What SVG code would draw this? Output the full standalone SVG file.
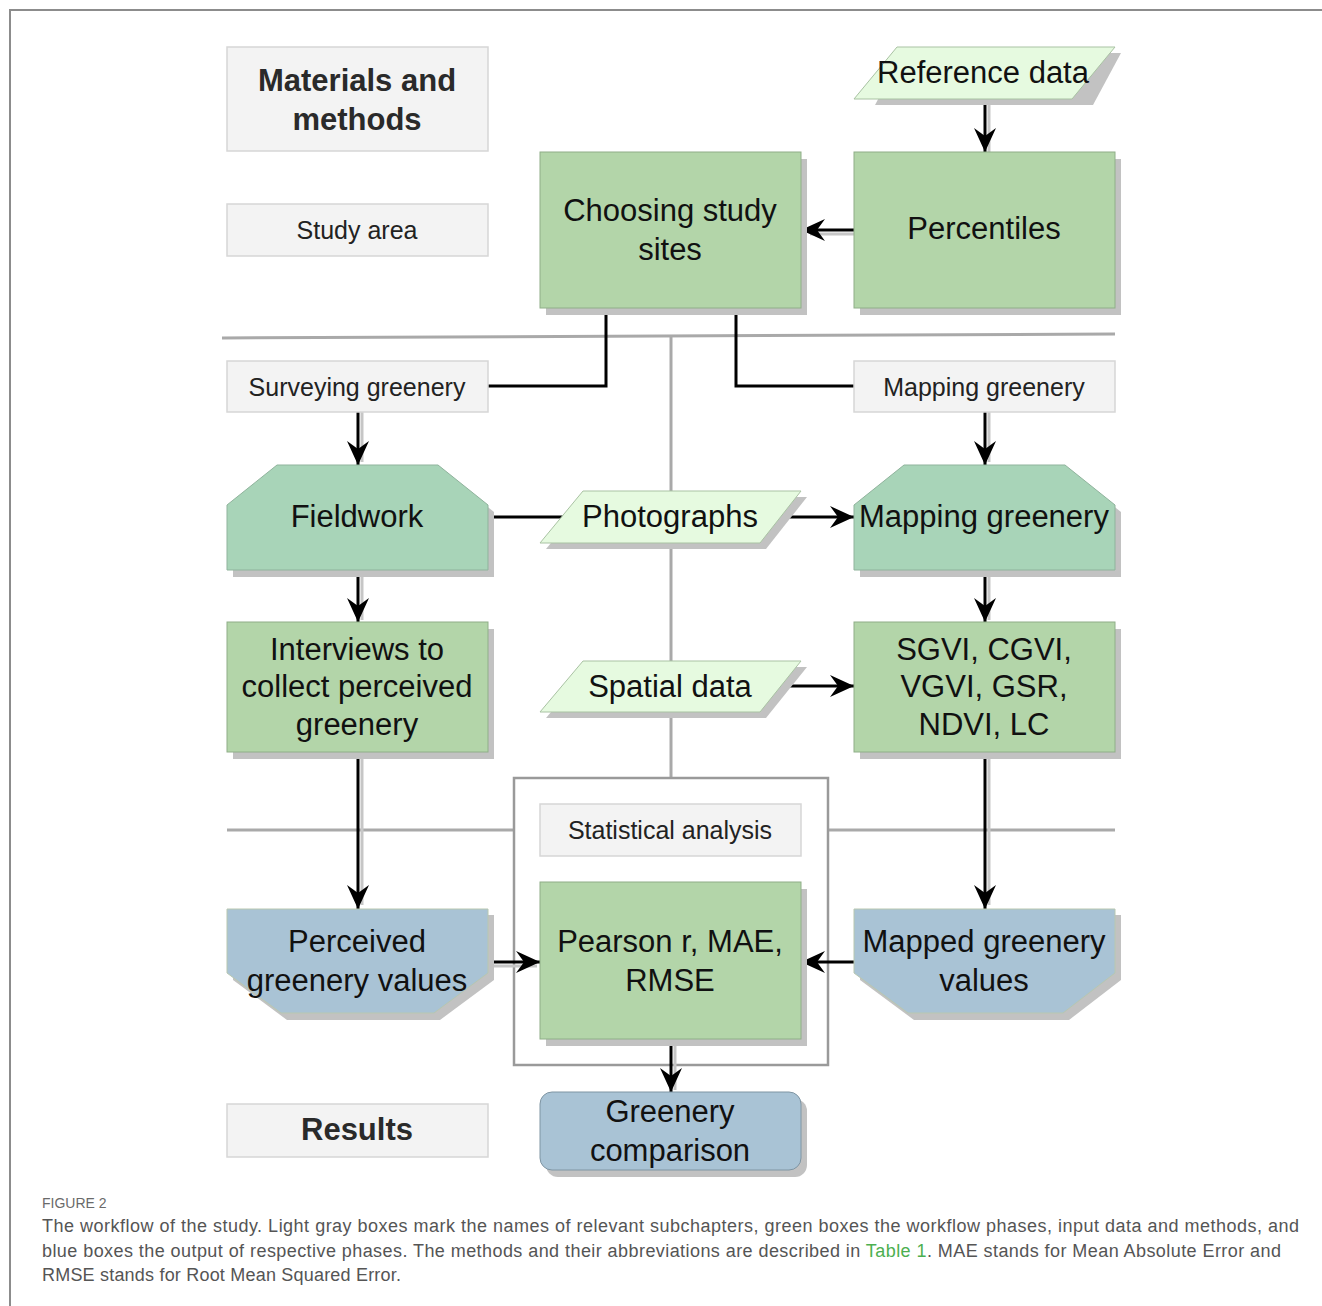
<svg xmlns="http://www.w3.org/2000/svg" width="1322" height="1306" viewBox="0 0 1322 1306">
<style>
.frame{stroke:#8c8c8c;stroke-width:2;fill:none}
.lbl{fill:#f3f3f3;stroke:#d6d6d6;stroke-width:1.5}
.grn{fill:#b3d5a9;stroke:#8fae88;stroke-width:1}
.hex{fill:#a8d4b8;stroke:#8fb39c;stroke-width:1}
.par{fill:#e6fae0;stroke:#a9c2a3;stroke-width:1}
.blu{fill:#a9c3d5;stroke:#b8c7b0;stroke-width:1}
.sh{fill:#c2c2c2}
.t{font-family:"Liberation Sans",Arial,sans-serif;font-size:31px;fill:#111;text-anchor:middle}
.tl{font-family:"Liberation Sans",Arial,sans-serif;font-size:25px;fill:#222;text-anchor:middle}
.tb{font-family:"Liberation Sans",Arial,sans-serif;font-size:31px;font-weight:bold;fill:#2a2a2a;text-anchor:middle}
.cap{font-family:"Liberation Sans",Arial,sans-serif;font-size:18px;fill:#555}
.gl{stroke:#a9a9a9;stroke-width:3;fill:none}
.ash{stroke:#c6c6c6;stroke-width:3;fill:none}
.c{stroke:#000;stroke-width:3;fill:none}
.a{marker-end:url(#ah)}
</style>
<defs>
<marker id="ah" markerUnits="userSpaceOnUse" markerWidth="26" markerHeight="24" refX="24" refY="11" orient="auto">
<path d="M0,0 L24,11 L0,22 L8,11 Z" fill="#000"/>
</marker>
</defs>
<rect width="1322" height="1306" fill="#fff"/>
<path class="frame" d="M10,1306 V10 H1322"/>

<g id="lanes">
<line class="gl" x1="222" y1="338" x2="1115" y2="334"/>
<line class="gl" x1="671" y1="336" x2="671" y2="778"/>
<line class="gl" x1="227" y1="830" x2="514" y2="830"/>
<line class="gl" x1="828" y1="830" x2="1115" y2="830"/>
<rect x="514" y="778" width="314" height="287" fill="none" stroke="#9a9a9a" stroke-width="2.5"/>
</g>

<g id="connectors">
<line class="ash" x1="989" y1="99" x2="989" y2="152"/>
<line class="ash" x1="854" y1="234" x2="810" y2="234"/>
<line class="ash" x1="362" y1="412" x2="362" y2="462"/>
<line class="ash" x1="989" y1="412" x2="989" y2="462"/>
<line class="ash" x1="362" y1="570" x2="362" y2="620"/>
<line class="ash" x1="989" y1="570" x2="989" y2="620"/>
<line class="ash" x1="362" y1="752" x2="362" y2="905"/>
<line class="ash" x1="989" y1="752" x2="989" y2="905"/>
<line class="ash" x1="488" y1="966" x2="537" y2="966"/>
<line class="ash" x1="675" y1="1039" x2="675" y2="1090"/>
<line class="c a" x1="985" y1="99" x2="985" y2="152"/>
<line class="c a" x1="854" y1="230" x2="801" y2="230"/>
<polyline class="c" points="606,308 606,386 488,386"/>
<polyline class="c" points="736,308 736,386 854,386"/>
<line class="c a" x1="358" y1="412" x2="358" y2="465"/>
<line class="c a" x1="985" y1="412" x2="985" y2="465"/>
<line class="c" x1="488" y1="517" x2="570" y2="517"/>
<line class="c a" x1="775" y1="517" x2="854" y2="517"/>
<line class="c a" x1="775" y1="686" x2="854" y2="686"/>
<line class="c a" x1="358" y1="570" x2="358" y2="622"/>
<line class="c a" x1="985" y1="570" x2="985" y2="622"/>
<line class="c a" x1="358" y1="752" x2="358" y2="909"/>
<line class="c a" x1="985" y1="752" x2="985" y2="909"/>
<line class="c a" x1="488" y1="962" x2="540" y2="962"/>
<line class="c a" x1="854" y1="962" x2="801" y2="962"/>
<line class="c a" x1="671" y1="1039" x2="671" y2="1092"/>
</g>

<g id="materials-methods">
<rect class="lbl" x="227" y="47" width="261" height="104"/>
<text class="tb" x="357" y="91">Materials and</text>
<text class="tb" x="357" y="130">methods</text>
</g>
<g id="study-area">
<rect class="lbl" x="227" y="204" width="261" height="52"/>
<text class="tl" x="357" y="239">Study area</text>
</g>
<g id="reference-data">
<polygon class="sh" points="903,53 1121,53 1093,105 875,105"/>
<polygon class="par" points="897,47 1115,47 1072,99 854,99"/>
<text class="t" x="983" y="83">Reference data</text>
</g>
<g id="choosing-study-sites">
<rect class="sh" x="546" y="159" width="261" height="156"/>
<rect class="grn" x="540" y="152" width="261" height="156"/>
<text class="t" x="670" y="221">Choosing study</text>
<text class="t" x="670" y="260">sites</text>
</g>
<g id="percentiles">
<rect class="sh" x="860" y="159" width="261" height="156"/>
<rect class="grn" x="854" y="152" width="261" height="156"/>
<text class="t" x="984" y="239">Percentiles</text>
</g>
<g id="surveying-greenery">
<rect class="lbl" x="227" y="361" width="261" height="51"/>
<text class="tl" x="357" y="396">Surveying greenery</text>
</g>
<g id="mapping-greenery-label">
<rect class="lbl" x="854" y="361" width="261" height="51"/>
<text class="tl" x="984" y="396">Mapping greenery</text>
</g>
<g id="fieldwork">
<polygon class="sh" points="283,472 444,472 494,512 494,577 233,577 233,512"/>
<polygon class="hex" points="277,465 438,465 488,505 488,570 227,570 227,505"/>
<text class="t" x="357" y="527">Fieldwork</text>
</g>
<g id="photographs">
<polygon class="sh" points="589,497 807,497 766,549 546,549"/>
<polygon class="par" points="583,491 801,491 760,543 540,543"/>
<text class="t" x="670" y="527">Photographs</text>
</g>
<g id="mapping-greenery">
<polygon class="sh" points="910,472 1071,472 1121,512 1121,577 860,577 860,512"/>
<polygon class="hex" points="904,465 1065,465 1115,505 1115,570 854,570 854,505"/>
<text class="t" x="984" y="527">Mapping greenery</text>
</g>
<g id="interviews">
<rect class="sh" x="233" y="629" width="261" height="130"/>
<rect class="grn" x="227" y="622" width="261" height="130"/>
<text class="t" x="357" y="660">Interviews to</text>
<text class="t" x="357" y="697">collect perceived</text>
<text class="t" x="357" y="735">greenery</text>
</g>
<g id="spatial-data">
<polygon class="sh" points="589,667 807,667 766,718 546,718"/>
<polygon class="par" points="583,661 801,661 760,712 540,712"/>
<text class="t" x="670" y="697">Spatial data</text>
</g>
<g id="indices">
<rect class="sh" x="860" y="629" width="261" height="130"/>
<rect class="grn" x="854" y="622" width="261" height="130"/>
<text class="t" x="984" y="660">SGVI, CGVI,</text>
<text class="t" x="984" y="697">VGVI, GSR,</text>
<text class="t" x="984" y="735">NDVI, LC</text>
</g>
<g id="statistical-analysis">
<rect class="lbl" x="540" y="804" width="261" height="52"/>
<text class="tl" x="670" y="839">Statistical analysis</text>
</g>
<g id="perceived-values">
<polygon class="sh" points="233,915 494,915 494,980 440,1020 287,1020 233,980"/>
<polygon class="blu" points="227,909 488,909 488,973 434,1013 281,1013 227,973"/>
<text class="t" x="357" y="952">Perceived</text>
<text class="t" x="357" y="991">greenery values</text>
</g>
<g id="pearson">
<rect class="sh" x="546" y="889" width="261" height="157"/>
<rect class="grn" x="540" y="882" width="261" height="157"/>
<text class="t" x="670" y="952">Pearson r, MAE,</text>
<text class="t" x="670" y="991">RMSE</text>
</g>
<g id="mapped-values">
<polygon class="sh" points="860,915 1121,915 1121,980 1069,1020 914,1020 860,980"/>
<polygon class="blu" points="854,909 1115,909 1115,973 1063,1013 908,1013 854,973"/>
<text class="t" x="984" y="952">Mapped greenery</text>
<text class="t" x="984" y="991">values</text>
</g>
<g id="results">
<rect class="lbl" x="227" y="1104" width="261" height="53"/>
<text class="tb" x="357" y="1140">Results</text>
</g>
<g id="greenery-comparison">
<rect class="sh" x="546" y="1099" width="261" height="78" rx="12"/>
<rect x="540" y="1092" width="261" height="78" rx="12" fill="#a9c3d5" stroke="#7f95a3" stroke-width="1"/>
<text class="t" x="670" y="1122">Greenery</text>
<text class="t" x="670" y="1161">comparison</text>
</g>

<g id="caption">
<text class="cap" x="42" y="1208" style="font-size:14px;fill:#6a6a6a">FIGURE 2</text>
<text class="cap" x="42" y="1232" textLength="1257" lengthAdjust="spacing">The workflow of the study. Light gray boxes mark the names of relevant subchapters, green boxes the workflow phases, input data and methods, and</text>
<text class="cap" x="42" y="1257" textLength="1239" lengthAdjust="spacing">blue boxes the output of respective phases. The methods and their abbreviations are described in <tspan fill="#4caf50">Table 1</tspan>. MAE stands for Mean Absolute Error and</text>
<text class="cap" x="42" y="1281" textLength="359" lengthAdjust="spacing">RMSE stands for Root Mean Squared Error.</text>
</g>
</svg>
